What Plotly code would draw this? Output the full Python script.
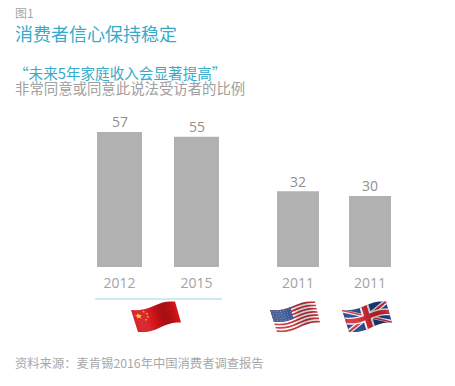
import math
import plotly.graph_objects as go

# ---- data ----
years = ["2012", "2015", "2011", "2011"]
values = [57, 55, 32, 30]
countries = ["中国", "中国", "美国", "英国"]

# ---- layout constants (pixels in a 455x386 page) ----
W, H = 455, 386
BAR_CENTERS = [119.5, 196.5, 298, 370]
BAR_WIDTHS = [45, 45, 42, 42]
BASE_PX = 267
PX_PER_UNIT = 2.37
GREY_TXT = "#a3a3a3"
BLUE_TXT = "#36abc9"
CJK = "Noto Sans CJK SC, Noto Sans, sans-serif"
LATIN = "Open Sans, sans-serif"


def py(p):
    return 1 - p / H


def bil(c, u, v, amp):
    tl, tr, br, bl = c
    x = (tl[0]*(1-u)+tr[0]*u)*(1-v) + (bl[0]*(1-u)+br[0]*u)*v
    y = (tl[1]*(1-u)+tr[1]*u)*(1-v) + (bl[1]*(1-u)+br[1]*u)*v
    y += amp * math.sin(u * 2 * math.pi * 0.95)
    return x, y


def poly(c, pts, color, amp=1.8, opacity=1):
    d = "M" + " L".join(
        "{:.2f},{:.4f}".format(bil(c, u, v, amp)[0], py(bil(c, u, v, amp)[1])) for u, v in pts
    ) + " Z"
    return dict(type="path", xref="x", yref="paper", path=d, fillcolor=color,
                line=dict(width=0), opacity=opacity, layer="above")


def band(c, u0, u1, v0, v1, color, n=10):
    top = [(u0 + (u1-u0)*i/n, v0) for i in range(n+1)]
    bot = [(u1 - (u1-u0)*i/n, v1) for i in range(n+1)]
    return poly(c, top + bot, color)


def shaded(c, n=14):
    """dark/light sheen overlaid along the flag's wave"""
    out = []
    for i in range(n):
        u0, u1 = i/n, (i+1)/n + 0.005
        s = math.sin((u0 + 0.03) * 2 * math.pi * 0.95 + 0.6)
        col = "#000000" if s < 0 else "#ffffff"
        out.append(band(c, u0, u1, 0, 1, col, 2))
        out[-1]["opacity"] = abs(s) * (0.2 if s < 0 else 0.1)
    return out


def star(c, uc, vc, r, color):
    pts = []
    for i in range(10):
        a = -math.pi/2 + i*math.pi/5
        rr = r if i % 2 == 0 else r*0.45
        pts.append((uc + rr*math.cos(a), vc + rr*1.6*math.sin(a)))
    return poly(c, pts, color)


def china(c):
    out = [band(c, 0, 1, 0, 1, "#d5141a")]
    out.append(star(c, 0.13, 0.27, 0.085, "#f6d312"))
    for uc, vc in [(0.27, 0.10), (0.33, 0.22), (0.33, 0.36), (0.27, 0.47)]:
        out.append(star(c, uc, vc, 0.03, "#f6d312"))
    return out + shaded(c)


def usa(c):
    out = [band(c, 0, 1, 0, 1, "#ffffff")]
    for i in range(0, 13, 2):
        out.append(band(c, 0, 1, i/13, (i+1)/13, "#c8323c"))
    out.append(band(c, 0, 0.45, 0, 7/13, "#36548f"))
    for r in range(5):
        for k in range(7):
            out.append(star(c, 0.035 + k*0.063 + (r % 2)*0.015, 0.06 + r*0.105, 0.012, "#e8ecf6"))
    return out + shaded(c)


def uk(c):
    out = [band(c, 0, 1, 0, 1, "#1f3f86")]
    d = 0.075
    for (a, b) in [((0, 0), (1, 1)), ((0, 1), (1, 0))]:
        sgn = 1 if a[1] == 0 else -1
        out.append(poly(c, [(a[0], a[1]), (a[0]+d, a[1]), (b[0], b[1]-sgn*0.13), (b[0], b[1]),
                            (b[0]-d, b[1]), (a[0], a[1]+sgn*0.13)], "#f4f4f4"))
        out.append(poly(c, [(a[0], a[1]), (a[0]+d/2, a[1]), (b[0], b[1]-sgn*0.06), (b[0], b[1]),
                            (b[0]-d/2, b[1]), (a[0], a[1]+sgn*0.06)], "#cf2a35"))
    out.append(band(c, 0.40, 0.60, 0, 1, "#f4f4f4"))
    out.append(band(c, 0, 1, 0.34, 0.66, "#f4f4f4"))
    out.append(band(c, 0.44, 0.56, 0, 1, "#cf2a35"))
    out.append(band(c, 0, 1, 0.40, 0.60, "#cf2a35"))
    return out + shaded(c)


shapes = [dict(type="line", xref="x", yref="paper", x0=95, x1=222, y0=py(299), y1=py(299),
               line=dict(color="#9ed8ec", width=1.2))]
shapes += china([(131, 310), (175, 302), (181, 323), (138, 332)])
shapes += usa([(270, 310), (315, 302), (320, 323), (277, 332)])
shapes += uk([(342, 310), (386, 302), (392, 323), (349, 332)])


def note(text, x, y, size, color):
    return dict(text=text, xref="paper", yref="paper", x=x/W, y=py(y), xanchor="left",
                yanchor="middle", showarrow=False, font=dict(family=CJK, size=size, color=color))


annotations = [
    note("图1", 13, 12, 12, "#a8a8a8"),
    note("消费者信心保持稳定", 13, 33, 18, BLUE_TXT),
    note("“未来5年家庭收入会显著提高”", 12, 72.5, 14.6, BLUE_TXT),
    note("非常同意或同意此说法受访者的比例", 13, 87.5, 14.4, "#a0a0a0"),
    note("资料来源：麦肯锡2016年中国消费者调查报告", 13, 362.5, 12.3, "#a8a8a8"),
]
for xc, v in zip(BAR_CENTERS, values):
    annotations.append(dict(text=str(v), xref="x", yref="y", x=xc, y=v, xanchor="center",
                            yanchor="bottom", yshift=-1.5, showarrow=False,
                            font=dict(family=LATIN, size=14, color="#8f8f8f")))

fig = go.Figure(go.Bar(
    x=BAR_CENTERS, y=values, width=BAR_WIDTHS,
    marker=dict(color="#b1b1b1", line=dict(width=0)),
    customdata=countries, hoverinfo="y",
))
fig.update_layout(
    width=W, height=H, margin=dict(l=0, r=0, t=0, b=0),
    paper_bgcolor="white", plot_bgcolor="white", showlegend=False,
    shapes=shapes, annotations=annotations,
    xaxis=dict(range=[0, W], tickmode="array", tickvals=BAR_CENTERS, ticktext=years,
               showgrid=False, zeroline=False, showline=False, ticks="outside", ticklen=3,
               tickcolor="rgba(0,0,0,0)",
               tickfont=dict(family=LATIN, size=14, color=GREY_TXT)),
    yaxis=dict(domain=[(H - BASE_PX) / H, 1], range=[0, BASE_PX / PX_PER_UNIT], visible=False),
)
fig.write_html("out.html", config=dict(displayModeBar=False),
               post_script="document.body.style.margin='0';document.body.style.overflow='hidden';")
